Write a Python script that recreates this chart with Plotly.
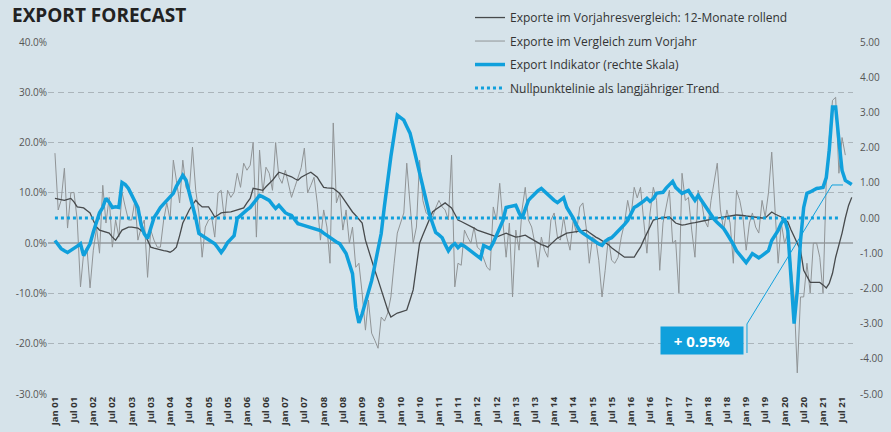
import pandas as pd
import plotly.graph_objects as go

start_month = "2001-01-01"

# Exporte im Vorjahresvergleich: 12-Monate rollend (%), Jan 2001 - Oct 2021
rolling_12m = [
    8.9, 8.8, 8.6, 8.5, 8.7, 8.9, 8.2, 7.2, 7.1, 7.0, 6.5, 6.0,
    4.5, 3.2, 2.6, 2.4, 2.2, 2.0, 1.2, 0.6, 1.6, 2.6, 2.9, 3.2,
    3.2, 3.1, 3.0, 2.5, 2.0, 0.6, -0.8, -1.0, -1.2, -1.4, -1.5, -1.6,
    -1.8, -1.4, -0.8, 1.5, 4.0, 5.3, 6.6, 7.6, 8.5, 7.8, 7.2, 7.2,
    7.2, 6.2, 5.2, 5.6, 6.0, 6.1, 6.1, 6.2, 6.4, 6.6, 6.8, 7.0,
    8.0, 8.9, 10.9, 10.8, 10.6, 10.5, 11.2, 11.8, 12.5, 13.3, 14.1, 13.9,
    13.7, 13.5, 13.2, 12.8, 12.5, 13.1, 13.5, 13.8, 14.1, 13.6, 13.1, 12.1,
    11.1, 11.0, 11.0, 10.9, 10.4, 9.9, 9.0, 8.0, 7.1, 6.2, 5.5, 4.8,
    4.0, 0.6, -1.4, -3.4, -5.4, -7.3, -9.3, -11.3, -13.3, -14.7, -14.3, -13.9,
    -13.7, -13.5, -13.3, -11.3, -9.3, -4.6, 0.0, 1.6, 3.2, 4.7, 6.2, 6.7,
    7.2, 7.6, 8.0, 7.5, 7.0, 5.8, 4.6, 4.3, 4.0, 3.6, 3.3, 3.0,
    2.6, 2.4, 2.2, 2.0, 1.7, 1.5, 1.2, 1.5, 1.8, 2.0, 1.7, 1.5,
    1.2, 1.3, 1.5, 1.6, 1.2, 0.8, 0.4, 0.0, -0.3, -0.5, -0.8, -0.2,
    0.4, 1.0, 1.3, 1.7, 2.0, 2.1, 2.2, 2.2, 2.3, 2.5, 2.6, 2.1,
    1.6, 1.2, 0.9, 0.5, 0.2, -0.3, -0.9, -1.4, -1.9, -2.4, -2.8, -2.8,
    -2.8, -2.8, -1.8, -0.8, 0.6, 2.0, 3.3, 4.6, 4.8, 5.0, 5.1, 5.1,
    5.2, 4.6, 4.0, 3.8, 3.6, 3.7, 3.9, 4.0, 4.1, 4.2, 4.4, 4.5,
    4.6, 4.8, 4.9, 5.0, 5.2, 5.3, 5.4, 5.5, 5.5, 5.6, 5.6, 5.5,
    5.4, 5.3, 5.2, 5.1, 5.1, 5.0, 5.0, 5.6, 6.2, 5.8, 5.5, 5.2,
    4.7, 4.2, 2.7, 1.2, 0.0, -1.4, -5.4, -6.6, -7.8, -7.8, -7.8, -7.8,
    -8.3, -8.9, -8.0, -6.0, -2.8, -0.5, 2.0, 5.0, 7.5, 9.1,
]

# Exporte im Vergleich zum Vorjahr (%), Jan 2001 - Aug 2021
monthly_yoy = [
    17.9, 6.6, 8.5, 14.9, 3.0, 10.0, 10.1, 4.6, -8.7, -2.0, -0.8, -8.9,
    -1.4, 3.0, -2.0, 11.5, 4.0, 9.1, -0.8, 4.6, 1.2, 10.1, 7.2, 4.6,
    4.6, 8.5, 0.6, 3.0, 4.6, -6.8, 2.6, 0.6, -0.8, -0.8, 4.6, 8.0,
    4.6, 16.5, 12.5, 8.0, 16.5, 11.1, 10.1, 19.1, 10.5, 6.0, -2.8, 3.2,
    4.6, 5.0, 1.2, 10.0, 10.5, 4.6, 10.5, 9.1, 10.1, 13.9, 11.1, 15.9,
    14.5, 15.5, 20.0, 1.2, 18.5, 10.0, 15.1, 13.9, 10.5, 20.0, 13.1, 11.9,
    14.5, 11.5, 9.1, 11.1, 12.9, 15.0, 18.9, 10.0, 11.5, 13.1, 8.0, 0.6,
    6.6, 3.2, -4.0, 23.9, 8.0, 10.0, 2.6, 6.6, 0.0, 3.2, -4.8, -4.0,
    -10.0, -17.3, -11.3, -17.9, -19.3, -20.9, -14.7, -15.5, -13.9, -10.7, -4.0, 2.0,
    4.0, 6.0, 15.9, 7.2, 0.0, 3.2, 16.5, 8.5, 6.0, 5.5, 5.2, 7.0,
    8.5, 7.2, 6.6, 4.6, 17.5, -8.7, -4.0, -4.4, 2.6, 1.2, 0.0, 3.2,
    -0.8, -1.4, -3.0, -4.8, -5.4, 7.2, 4.6, 11.9, 4.0, -2.8, 4.0, -10.7,
    2.6, -1.4, 6.6, 11.1, 4.6, 3.2, 0.0, -4.8, 1.2, -1.4, -2.8, 4.6,
    6.0, 1.2, 0.6, 5.2, 1.2, -1.4, 4.6, 2.0, 7.2, 8.0, 3.2, -4.0,
    1.2, 0.6, -3.4, -10.7, -5.4, 1.2, -3.4, -4.0, -2.8, 1.2, 4.0, 8.5,
    5.2, 11.1, 9.0, 11.1, 4.6, -2.0, 6.0, 11.1, 8.5, -5.4, 4.0, 7.2,
    10.5, 0.0, 0.6, -9.9, 13.9, 8.5, 9.1, 2.6, -2.8, 10.5, 8.5, 4.6,
    3.2, 8.5, 12.0, 15.9, 6.6, 2.6, 6.6, 4.0, -4.0, 10.5, 8.5, 5.2,
    -1.4, 4.0, 6.0, 3.2, 2.0, 8.5, 5.2, 10.0, 18.1, 7.2, -4.0, 4.0,
    0.0, 2.0, -4.0, -10.7, -25.8, -10.7, -10.7, -4.0, -9.9, 0.0, 0.0, -2.8,
    -9.9, 12.5, 21.0, 28.4, 29.0, 13.9, 21.0, 17.5,
]

# Export Indikator (rechte Skala), Jan 2001 - Oct 2021
indicator = [
    -0.64, -0.75, -0.87, -0.93, -0.98, -0.92, -0.87, -0.80, -0.73, -1.07, -0.90, -0.73,
    -0.40, -0.07, 0.15, 0.30, 0.56, 0.45, 0.30, 0.32, 0.30, 1.01, 0.95, 0.84,
    0.65, 0.45, 0.30, -0.20, -0.45, -0.58, -0.30, 0.01, 0.15, 0.30, 0.40, 0.50,
    0.60, 0.70, 0.90, 1.05, 1.21, 1.07, 0.75, 0.41, 0.00, -0.44, -0.50, -0.56,
    -0.62, -0.68, -0.73, -0.85, -0.98, -0.85, -0.70, -0.60, -0.50, -0.01, 0.08, 0.16,
    0.23, 0.30, 0.42, 0.53, 0.64, 0.60, 0.55, 0.50, 0.38, 0.27, 0.36, 0.25,
    0.15, 0.10, 0.07, -0.05, -0.16, -0.19, -0.22, -0.25, -0.27, -0.30, -0.33, -0.36,
    -0.43, -0.50, -0.56, -0.62, -0.68, -0.73, -0.87, -1.01, -1.30, -1.58, -2.55, -2.98,
    -2.72, -2.40, -2.10, -1.78, -1.35, -0.90, -0.44, 0.35, 1.15, 1.75, 2.35, 2.92,
    2.85, 2.78, 2.60, 2.41, 2.05, 1.64, 1.25, 0.84, 0.50, 0.13, -0.15, -0.41,
    -0.48, -0.56, -0.75, -0.93, -0.80, -0.73, -0.84, -0.75, -0.80, -0.87, -0.93, -1.00,
    -1.07, -1.15, -0.78, -0.82, -0.87, -0.70, -0.50, -0.25, -0.07, 0.30, 0.32, 0.34,
    0.36, 0.15, -0.01, 0.25, 0.50, 0.60, 0.70, 0.78, 0.84, 0.75, 0.65, 0.56,
    0.50, 0.44, 0.50, 0.58, 0.30, 0.15, 0.00, -0.20, -0.36, -0.43, -0.50, -0.56,
    -0.63, -0.70, -0.74, -0.78, -0.66, -0.60, -0.56, -0.47, -0.38, -0.30, -0.18, -0.07,
    0.12, 0.30, 0.35, 0.41, 0.48, 0.56, 0.47, 0.55, 0.70, 0.72, 0.73, 0.85,
    0.95, 1.04, 0.87, 0.78, 0.70, 0.74, 0.78, 0.64, 0.50, 0.64, 0.50, 0.36,
    0.22, 0.07, -0.03, -0.13, -0.22, -0.30, -0.44, -0.58, -0.75, -0.93, -1.05, -1.15,
    -1.27, -1.14, -1.01, -1.07, -1.13, -1.07, -1.01, -0.93, -0.64, -0.50, -0.35, -0.15,
    -0.01, -0.36, -1.58, -3.00, -2.07, -0.64, 0.30, 0.70, 0.74, 0.78, 0.84, 0.85,
    0.87, 1.15, 1.92, 3.15, 3.15, 2.21, 1.35, 1.07, 1.00, 0.95,
]

# Nullpunktelinie als langjähriger Trend
trend_dates = ["2001-01-01", "2021-06-10"]
trend_values = [0, 0]

left_tickvals = [-30, -20, -10, 0, 10, 20, 30, 40]
left_ticktext = ["-30.0%", "-20.0%", "-10.0%", "0.0%", "10.0%", "20.0%", "30.0%", "40.0%"]
right_tickvals = [-5, -4, -3, -2, -1, 0, 1, 2, 3, 4, 5]
right_ticktext = ["-5.00", "-4.00", "-3.00", "-2.00", "-1.00", "0.00",
                  "1.00", "2.00", "3.00", "4.00", "5.00"]

latest_label = "+ 0.95%"
title_text = "EXPORT FORECAST"

names = [
    "Exporte im Vorjahresvergleich: 12-Monate rollend",
    "Exporte im Vergleich zum Vorjahr",
    "Export Indikator (rechte Skala)",
    "Nullpunktelinie als langjähriger Trend",
]

dates_roll = pd.date_range(start_month, periods=len(rolling_12m), freq="MS")
dates_yoy = pd.date_range(start_month, periods=len(monthly_yoy), freq="MS")
dates_ind = pd.date_range(start_month, periods=len(indicator), freq="MS")

BG = "#d6e3ea"
BLUE = "#10a0dc"
FONT = "Open Sans"

fig = go.Figure()
fig.add_trace(go.Scatter(
    x=dates_yoy, y=monthly_yoy, mode="lines", name=names[1],
    line=dict(color="#909496", width=1), legendgroup="b", legendrank=2,
))
fig.add_trace(go.Scatter(
    x=dates_roll, y=rolling_12m, mode="lines", name=names[0],
    line=dict(color="#474a4c", width=1.3), legendgroup="a", legendrank=1,
))
fig.add_trace(go.Scatter(
    x=trend_dates, y=trend_values, mode="lines", name=names[3], yaxis="y2",
    line=dict(color=BLUE, width=3, dash="dot"), legendgroup="d", legendrank=4,
))
fig.add_trace(go.Scatter(
    x=dates_ind, y=indicator, mode="lines", name=names[2], yaxis="y2",
    line=dict(color=BLUE, width=3.5), legendgroup="c", legendrank=3,
))

fig.update_layout(
    width=891, height=432,
    margin=dict(l=48, r=38, t=42, b=38, autoexpand=False),
    paper_bgcolor=BG, plot_bgcolor=BG,
    font=dict(family=FONT, color="#333333"),
    showlegend=True,
    legend=dict(
        x=0.5242, y=1.1107, xanchor="left", yanchor="top",
        bgcolor="rgba(0,0,0,0)", font=dict(size=12, color="#333333"),
        traceorder="grouped", tracegroupgap=4.5,
    ),
    xaxis=dict(
        type="date", range=["2000-10-27", "2021-10-13"],
        tick0="2001-01-01", dtick="M6", tickformat="%b %y",
        tickangle=-90, showgrid=False, zeroline=False, showline=False,
        ticks="", tickfont=dict(size=9.5, color="#333333", weight="bold"),
    ),
    yaxis=dict(
        range=[-30, 40], tickvals=left_tickvals, ticktext=left_ticktext,
        showgrid=True, gridcolor="#abb5bb", gridwidth=1, griddash="6px,4px",
        zeroline=True, zerolinecolor="#a4acb1", zerolinewidth=1.5,
        showline=False, ticks="", tickfont=dict(size=10, color="#555555"),
    ),
    yaxis2=dict(
        range=[-5, 5], overlaying="y", side="right",
        tickvals=right_tickvals, ticktext=right_ticktext,
        showgrid=False, zeroline=False, showline=False, ticks="",
        ticklabelstandoff=6, tickfont=dict(size=10, color="#555555"),
    ),
    annotations=[
        dict(
            text="<b>" + title_text + "</b>", xref="paper", yref="paper",
            x=-0.0472, y=1.1193, xanchor="left", yanchor="top",
            showarrow=False, font=dict(size=19, color="#222222"),
        ),
        dict(
            text="<b>" + latest_label + "</b>", xref="paper", yref="paper",
            x=0.8124, y=0.153, xanchor="center", yanchor="middle",
            showarrow=False, width=80, height=25, bgcolor=BLUE,
            font=dict(size=15, color="white"),
        ),
    ],
    shapes=[
        dict(
            type="path", xref="paper", yref="paper",
            path="M 0.8683 0.1165 L 0.8683 0.1989 L 0.9739 0.5938 L 0.9876 0.5938",
            line=dict(color=BLUE, width=1),
        ),
    ],
)

fig.write_html(
    "out.html",
    config={"displayModeBar": False},
    post_script="document.body.style.margin='0';document.body.style.overflow='hidden';",
)
